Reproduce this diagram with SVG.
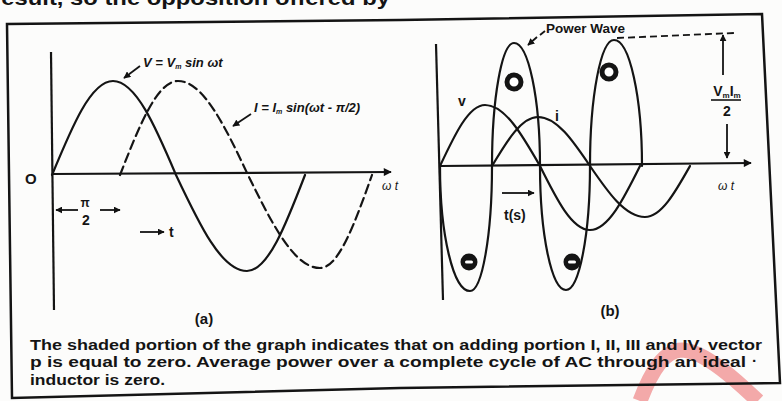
<svg xmlns="http://www.w3.org/2000/svg" width="782" height="401" viewBox="0 0 782 401">
  <defs>
    <marker id="ah" viewBox="0 0 10 10" refX="9" refY="5" markerWidth="9" markerHeight="8" markerUnits="userSpaceOnUse" orient="auto">
      <path d="M0,0 L10,5 L0,10 z" fill="#111"/>
    </marker>
    <marker id="ahs" viewBox="0 0 10 10" refX="9" refY="5" markerWidth="7" markerHeight="7" markerUnits="userSpaceOnUse" orient="auto">
      <path d="M0,0 L10,5 L0,10 z" fill="#111"/>
    </marker>
  </defs>
  <style>
    .curve { fill: none; stroke: #141414; stroke-width: 2.2; stroke-linejoin: round; stroke-linecap: round; }
    .dash { stroke-dasharray: 9 5; }
    .axis { fill: none; stroke: #141414; stroke-width: 2.2; }
    .thin { fill: none; stroke: #141414; stroke-width: 1.8; }
    .lbl { font-family: "Liberation Sans", Arial, sans-serif; fill: #141414; }
    .b { font-weight: bold; }
    .it { font-style: italic; font-size: 13px; font-weight: bold; }
    .cap { font-family: "Liberation Sans", Arial, sans-serif; font-weight: bold; font-size: 15.5px; fill: #141414; }
  </style>
  <rect x="0" y="0" width="782" height="401" fill="#fcfcfb"/>

  <!-- watermark -->
  <path d="M 640 401 C 651 372, 664 350, 682 350 C 705 351, 738 382, 758 401" fill="none" stroke="#f19a9a" stroke-width="15" opacity="0.85"/>

  <!-- cut-off heading -->
  <text class="lbl" x="-8" y="5" font-size="21" font-weight="bold" textLength="398" lengthAdjust="spacingAndGlyphs">result, so the opposition offered by</text>

  <g id="frame">
    <path d="M 7 24 L 400 20 L 762 14 L 780 383 L 400 388 L 12 398 Z" fill="none" stroke="#141414" stroke-width="2.5"/>
  </g>

  <g id="graph-a">
    <line class="axis" x1="51" y1="52" x2="54" y2="310"/>
    <text class="lbl b" x="25" y="184" font-size="15">O</text>
    <text class="lbl" x="382" y="190" font-size="12" font-style="italic">ω t</text>
    <path id="curve-v-a" class="curve" d="M 52 175 C 71.9 126.8 90.9 81 113 81 C 135.8 81 155.5 126.8 176 175 C 199.2 224.2 221.3 271 247 271 C 268 271 286.1 224.2 305 175"/>
    <path id="curve-i-a" class="curve dash" d="M 120 175 C 138.9 126.8 157 81 178 81 C 203.3 81 225.2 126.8 248 175 C 271.5 222.6 293.9 268 320 268 C 338.8 268 355 222.6 372 175"/>
    <text class="lbl it" x="143" y="67">V = V<tspan font-size="7" dy="2">m</tspan><tspan dy="-2"> sin ωt</tspan></text>
    <text class="lbl it" x="254" y="112">I = I<tspan font-size="7" dy="2">m</tspan><tspan dy="-2"> sin(ωt - π/2)</tspan></text>
    <text class="lbl b" x="85" y="207" font-size="12" text-anchor="middle">π</text>
    <text class="lbl b" x="86" y="225" font-size="14" text-anchor="middle">2</text>
    <text class="lbl b" x="169" y="237" font-size="14">t</text>
    <text class="lbl b" x="204" y="324" font-size="15" text-anchor="middle">(a)</text>
  </g>

  <g id="graph-b">
    <line class="axis" x1="436" y1="44" x2="443" y2="300"/>
    <text class="lbl" x="718" y="190" font-size="12" font-style="italic">ω t</text>
    <path id="curve-v-b" class="curve" d="M 440 166 C 454.7 134.7 468.7 105 485 105 C 504.9 105 522.1 134.7 540 166 C 556.3 198.8 571.9 230 590 230 C 608.1 230 623.7 198.8 640 166"/>
    <path id="curve-i-b" class="curve" d="M 492 166 C 507 140.9 521.4 117 538 117 C 556.8 117 573 140.9 590 166 C 607.9 192.1 625.1 217 645 217 C 661.3 217 675.3 192.1 690 166"/>
    <path id="power-wave" class="curve" d="M 440 166 C 440 235 453.4 291 470 291 C 482.1 291 492 235 492 166 C 492 98.1 501.9 43 514 43 C 528.4 43 540 98.1 540 166 C 540 234.4 551.6 290 566 290 C 579.2 290 590 234.4 590 166 C 590 96.4 600.8 40 614 40 C 629.5 40 642 96.4 642 166"/>
    <g id="sign-1"><circle cx="514" cy="82" r="7" fill="#fff" stroke="#141414" stroke-width="5"/></g>
    <g id="sign-2"><circle cx="609" cy="72" r="7" fill="#fff" stroke="#141414" stroke-width="5"/></g>
    <g id="sign-3"><circle cx="469" cy="262" r="8.5" fill="#141414"/><rect x="465" y="260.5" width="8" height="3" rx="1.5" fill="#fff"/></g>
    <g id="sign-4"><circle cx="572" cy="262" r="8.5" fill="#141414"/><rect x="568" y="260.5" width="8" height="3" rx="1.5" fill="#fff"/></g>
    <text class="lbl b" x="458" y="106" font-size="14">v</text>
    <text class="lbl b" x="555" y="121" font-size="14">i</text>
    <text class="lbl b" x="546" y="33" font-size="13.5">Power Wave</text>
    <text class="lbl b" x="504" y="220" font-size="14">t(s)</text>
    <text class="lbl b" x="727" y="96" font-size="14" text-anchor="middle">V<tspan font-size="8" dy="2">m</tspan><tspan dy="-2">I</tspan><tspan font-size="8" dy="2">m</tspan></text>
    <line x1="711" y1="100" x2="741" y2="100" stroke="#141414" stroke-width="1.6"/>
    <text class="lbl b" x="727" y="116" font-size="14" text-anchor="middle">2</text>
    <text class="lbl b" x="610" y="316" font-size="15" text-anchor="middle">(b)</text>
  </g>

  <g id="connectors">
    <line class="axis" x1="52" y1="174" x2="391" y2="172" marker-end="url(#ah)"/>
    <line class="axis" x1="440" y1="166" x2="751" y2="163" marker-end="url(#ah)"/>
    <line class="thin" x1="140" y1="66" x2="124" y2="78" marker-end="url(#ahs)"/>
    <line class="thin" x1="251" y1="114" x2="233" y2="126" marker-end="url(#ahs)"/>
    <line class="thin" x1="78" y1="210" x2="56" y2="210" marker-end="url(#ahs)"/>
    <line class="thin" x1="100" y1="210" x2="120" y2="210" marker-end="url(#ahs)"/>
    <line class="thin" x1="140" y1="232" x2="164" y2="232" marker-end="url(#ahs)"/>
    <line class="thin" x1="502" y1="193" x2="534" y2="193" marker-end="url(#ahs)"/>
    <path class="thin" d="M 545 31 L 540 35 M 537 37 L 528 45" marker-end="url(#ahs)"/>
    <line class="thin" x1="617" y1="38" x2="734" y2="33" stroke-dasharray="7 4"/>
    <line class="thin" x1="723" y1="75" x2="723" y2="35" marker-end="url(#ahs)"/>
    <line class="thin" x1="727" y1="124" x2="727" y2="158" marker-end="url(#ahs)"/>
  </g>

  <g id="caption">
    <text class="cap" x="30" y="350" textLength="732" lengthAdjust="spacingAndGlyphs">The shaded portion of the graph indicates that on adding portion I, II, III and IV, vector</text>
    <text class="cap" x="30" y="367" textLength="716" lengthAdjust="spacingAndGlyphs">p is equal to zero. Average power over a complete cycle of AC through an ideal</text>
    <text class="cap" x="752" y="366" font-size="10">·</text>
    <text class="cap" x="30" y="385" textLength="135" lengthAdjust="spacingAndGlyphs">inductor is zero.</text>
  </g>
</svg>
